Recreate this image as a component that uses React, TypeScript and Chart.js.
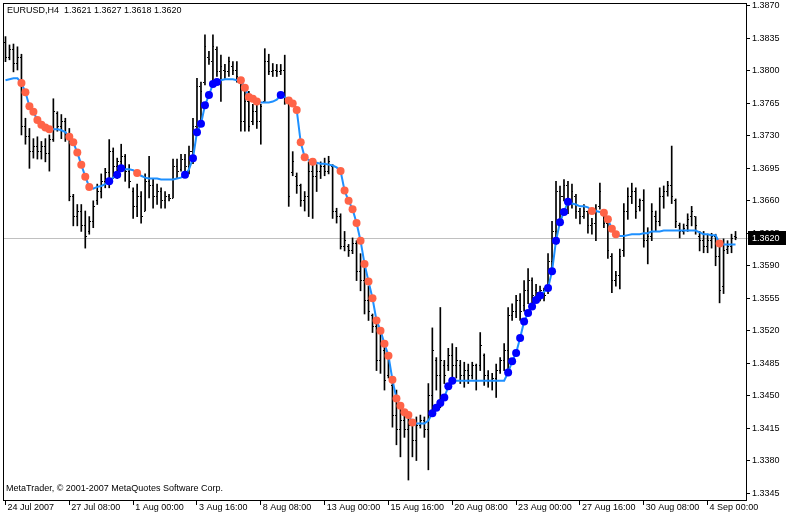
import { useEffect, useRef } from "react";
import { Chart, registerables } from "chart.js";

Chart.register(...registerables);

const TITLE = "EURUSD,H4  1.3621 1.3627 1.3618 1.3620";
const COPYRIGHT = "MetaTrader, \u00A9 2001-2007 MetaQuotes Software Corp.";
const BID_PRICE = 1.362;

const PRICE_TICKS = [
  1.387, 1.3835, 1.38, 1.3765, 1.373, 1.3695, 1.366, 1.3625, 1.359, 1.3555, 1.352, 1.3485, 1.345, 1.3415,
  1.338, 1.3345,
];
const TIME_TICK_BARS = [0, 16, 32, 48, 64, 80, 96, 112, 128, 144, 160, 176];
const TIME_TICK_LABELS = [
  "24 Jul 2007", "27 Jul 08:00", "1 Aug 00:00", "3 Aug 16:00", "8 Aug 08:00", "13 Aug 00:00",
  "15 Aug 16:00", "20 Aug 08:00", "23 Aug 00:00", "27 Aug 16:00", "30 Aug 08:00", "4 Sep 00:00",
];

const OPEN = [
  1.3831, 1.3815, 1.3823, 1.3808, 1.3815, 1.374, 1.3729, 1.3713, 1.3719, 1.3713,
  1.3719, 1.3711, 1.3726, 1.3754, 1.374, 1.3745, 1.3729, 1.3665, 1.3643, 1.3649,
  1.3633, 1.3627, 1.3638, 1.366, 1.367, 1.3681, 1.369, 1.3713, 1.3697, 1.3702,
  1.3708, 1.3692, 1.367, 1.3654, 1.3665, 1.3649, 1.3681, 1.3676, 1.3665, 1.367,
  1.366, 1.3665, 1.3663, 1.3697, 1.3694, 1.3705, 1.3697, 1.3713, 1.374, 1.3783,
  1.3788, 1.3815, 1.381, 1.3823, 1.3799, 1.3801, 1.3799, 1.3805, 1.3801, 1.3788,
  1.3745, 1.3767, 1.3745, 1.3756, 1.3745, 1.3767, 1.381, 1.3799, 1.3801, 1.3799,
  1.3801, 1.3767, 1.369, 1.3686, 1.3676, 1.366, 1.3665, 1.3692, 1.3686, 1.3692,
  1.3697, 1.3692, 1.3697, 1.3649, 1.3643, 1.3611, 1.3611, 1.3606, 1.3614, 1.3584,
  1.3574, 1.3552, 1.3536, 1.3525, 1.3488, 1.3499, 1.3472, 1.3461, 1.3429, 1.3413,
  1.3423, 1.3413, 1.3418, 1.3402, 1.3418, 1.3423, 1.3413, 1.345, 1.3488, 1.3472,
  1.3482, 1.3482, 1.3493, 1.3482, 1.3482, 1.3472, 1.3477, 1.3472, 1.3482, 1.3482,
  1.3493, 1.3472, 1.3466, 1.3468, 1.3477, 1.3488, 1.3499, 1.3536, 1.3541, 1.3552,
  1.3547, 1.3563, 1.3574, 1.3563, 1.3561, 1.3563, 1.3563, 1.3595, 1.3627, 1.367,
  1.3665, 1.3676, 1.366, 1.3665, 1.3649, 1.3643, 1.3649, 1.3633, 1.3636, 1.3654,
  1.3647, 1.3636, 1.36, 1.3574, 1.3579, 1.3606, 1.3649, 1.3665, 1.367, 1.3654,
  1.366, 1.3617, 1.3622, 1.3643, 1.3638, 1.3665, 1.367, 1.3676, 1.366, 1.3633,
  1.3627, 1.3633, 1.3643, 1.3643, 1.3622, 1.3617, 1.3611, 1.3617, 1.3622, 1.36,
  1.3568, 1.3608, 1.3611, 1.3621,
];

const HIGH = [
  1.3837, 1.3828, 1.3829, 1.3826, 1.3818, 1.3749, 1.3738, 1.3727, 1.3729, 1.3724,
  1.3727, 1.3731, 1.377, 1.3756, 1.3753, 1.3749, 1.3738, 1.3667, 1.3656, 1.3656,
  1.3649, 1.3643, 1.366, 1.3678, 1.3689, 1.3695, 1.3726, 1.3717, 1.3706, 1.3721,
  1.371, 1.3699, 1.3674, 1.3678, 1.367, 1.3689, 1.3708, 1.3684, 1.3678, 1.3674,
  1.367, 1.3667, 1.3705, 1.3705, 1.371, 1.371, 1.3719, 1.3749, 1.3792, 1.3788,
  1.3839, 1.3821, 1.3839, 1.3826, 1.3817, 1.3807, 1.3815, 1.381, 1.381, 1.3792,
  1.3781, 1.3778, 1.3764, 1.3767, 1.3764, 1.3824, 1.3818, 1.3808, 1.3807, 1.3807,
  1.3817, 1.377, 1.3713, 1.369, 1.3678, 1.367, 1.3702, 1.37, 1.3699, 1.3702,
  1.3706, 1.3708, 1.3699, 1.3652, 1.3646, 1.3627, 1.3613, 1.362, 1.3617, 1.3603,
  1.3595, 1.3568, 1.3538, 1.3527, 1.352, 1.3502, 1.3496, 1.3466, 1.3456, 1.3442,
  1.3431, 1.3431, 1.3423, 1.3427, 1.3429, 1.3427, 1.3463, 1.3523, 1.3491, 1.3545,
  1.3488, 1.3501, 1.3506, 1.3502, 1.3488, 1.3486, 1.3484, 1.3486, 1.3484, 1.3518,
  1.3495, 1.3477, 1.3474, 1.3484, 1.3491, 1.3506, 1.3545, 1.3549, 1.3558, 1.356,
  1.3574, 1.3587, 1.3577, 1.357, 1.3568, 1.3566, 1.3603, 1.3638, 1.3681, 1.3676,
  1.3683, 1.3681, 1.3678, 1.3667, 1.3652, 1.3656, 1.3649, 1.3641, 1.3656, 1.3679,
  1.3649, 1.3638, 1.3603, 1.3584, 1.3608, 1.3657, 1.3674, 1.3679, 1.3674, 1.3662,
  1.3672, 1.3631, 1.3657, 1.3649, 1.3674, 1.3676, 1.3681, 1.3719, 1.3662, 1.3636,
  1.3635, 1.3646, 1.3654, 1.3643, 1.3627, 1.3627, 1.3624, 1.3625, 1.3624, 1.3613,
  1.3619, 1.3617, 1.3624, 1.3627,
];

const LOW = [
  1.381, 1.3812, 1.3799, 1.3801, 1.3731, 1.3721, 1.3695, 1.3706, 1.3705, 1.3705,
  1.3702, 1.3692, 1.3724, 1.3735, 1.3727, 1.3724, 1.366, 1.3633, 1.3633, 1.3627,
  1.3609, 1.3624, 1.3631, 1.3656, 1.3663, 1.3674, 1.3674, 1.3684, 1.3684, 1.3692,
  1.3681, 1.3674, 1.3641, 1.3643, 1.3636, 1.3649, 1.3663, 1.3652, 1.3656, 1.3652,
  1.3652, 1.366, 1.3663, 1.3684, 1.3692, 1.3692, 1.3689, 1.37, 1.3731, 1.3745,
  1.3785, 1.3807, 1.3788, 1.3794, 1.3767, 1.3792, 1.3794, 1.3796, 1.3788, 1.3735,
  1.3735, 1.3735, 1.3742, 1.3738, 1.3721, 1.3767, 1.3796, 1.3794, 1.3794, 1.3796,
  1.3764, 1.3654, 1.3687, 1.3668, 1.3654, 1.3649, 1.3643, 1.3641, 1.367, 1.3684,
  1.3687, 1.3689, 1.3641, 1.3636, 1.3608, 1.3606, 1.36, 1.3603, 1.3574, 1.3563,
  1.3538, 1.3531, 1.3518, 1.3477, 1.3474, 1.3456, 1.3469, 1.3416, 1.3397, 1.3384,
  1.3405, 1.3359, 1.3384, 1.338, 1.3415, 1.3405, 1.337, 1.3432, 1.3456, 1.3437,
  1.3463, 1.3477, 1.3463, 1.3469, 1.3463, 1.3459, 1.3463, 1.3468, 1.3456, 1.3477,
  1.3461, 1.3459, 1.3456, 1.3448, 1.3474, 1.3477, 1.3477, 1.3531, 1.3534, 1.3531,
  1.3541, 1.3549, 1.3549, 1.3555, 1.3552, 1.3552, 1.356, 1.3581, 1.3613, 1.3638,
  1.366, 1.3646, 1.3652, 1.3641, 1.3635, 1.3641, 1.3625, 1.3624, 1.3617, 1.3651,
  1.3631, 1.3598, 1.3561, 1.3568, 1.3565, 1.36, 1.364, 1.3657, 1.3641, 1.3649,
  1.361, 1.3592, 1.3617, 1.3627, 1.3633, 1.3652, 1.3665, 1.3657, 1.3631, 1.362,
  1.3624, 1.3627, 1.3633, 1.3624, 1.3606, 1.3604, 1.3604, 1.3609, 1.359, 1.355,
  1.356, 1.3603, 1.3604, 1.3618,
];

const CLOSE = [
  1.3815, 1.3823, 1.3808, 1.3815, 1.374, 1.3729, 1.3713, 1.3719, 1.3713, 1.3719,
  1.3711, 1.3726, 1.3756, 1.374, 1.3745, 1.3729, 1.3665, 1.3643, 1.3649, 1.3633,
  1.3622, 1.3638, 1.3654, 1.367, 1.3681, 1.369, 1.3713, 1.3697, 1.3702, 1.3708,
  1.3692, 1.3681, 1.3654, 1.3665, 1.3643, 1.3681, 1.3676, 1.3665, 1.367, 1.366,
  1.3665, 1.3663, 1.3697, 1.3692, 1.3705, 1.3697, 1.3713, 1.374, 1.3783, 1.3778,
  1.3826, 1.3812, 1.3826, 1.3799, 1.3805, 1.3799, 1.381, 1.3801, 1.3794, 1.3745,
  1.3767, 1.374, 1.3756, 1.3745, 1.3762, 1.381, 1.3799, 1.3801, 1.3799, 1.3801,
  1.3767, 1.3665, 1.3702, 1.3676, 1.366, 1.3665, 1.3692, 1.3686, 1.3692, 1.3697,
  1.3692, 1.3702, 1.3649, 1.3643, 1.3611, 1.3617, 1.3606, 1.3614, 1.3584, 1.3574,
  1.3552, 1.3541, 1.3525, 1.3488, 1.3504, 1.3466, 1.3488, 1.3429, 1.3413, 1.3423,
  1.3413, 1.3418, 1.3402, 1.3418, 1.3423, 1.3413, 1.345, 1.3499, 1.3472, 1.3488,
  1.3472, 1.3493, 1.3482, 1.3488, 1.3472, 1.3477, 1.3472, 1.3482, 1.3466, 1.3504,
  1.3472, 1.3466, 1.3468, 1.3477, 1.3488, 1.3499, 1.3536, 1.3541, 1.3552, 1.3541,
  1.3563, 1.3574, 1.3558, 1.3561, 1.3563, 1.3558, 1.3595, 1.3627, 1.367, 1.3665,
  1.3676, 1.366, 1.367, 1.3649, 1.3643, 1.3649, 1.3633, 1.3636, 1.3649, 1.367,
  1.3636, 1.3606, 1.3574, 1.3579, 1.36, 1.3649, 1.3665, 1.367, 1.3649, 1.366,
  1.3617, 1.3622, 1.3649, 1.3638, 1.3665, 1.367, 1.3676, 1.3665, 1.3638, 1.3627,
  1.363, 1.364, 1.3649, 1.3633, 1.3617, 1.3611, 1.3617, 1.3622, 1.36, 1.3563,
  1.3606, 1.3611, 1.3619, 1.362,
];

const MA = [
  1.379, 1.3791, 1.3792, 1.3792, 1.3787, 1.3777, 1.3762, 1.3756, 1.3747, 1.3742,
  1.3739, 1.3737, 1.3737, 1.3737, 1.3736, 1.3734, 1.3729, 1.3723, 1.3712, 1.3699,
  1.3686, 1.3675, 1.3673, 1.3675, 1.3676, 1.3678, 1.3681, 1.3685, 1.3688, 1.3695,
  1.3694, 1.3694, 1.3693, 1.369, 1.3687, 1.3685, 1.3684, 1.3684, 1.3684, 1.3683,
  1.3683, 1.3683, 1.3683, 1.3684, 1.3685, 1.3688, 1.3694, 1.3706, 1.3734, 1.3743,
  1.3763, 1.3774, 1.3786, 1.3788, 1.379, 1.3791, 1.3791, 1.3791, 1.379, 1.379,
  1.3782, 1.3772, 1.377, 1.3767, 1.3766, 1.3766, 1.3766, 1.3767, 1.3769, 1.3774,
  1.3772, 1.3768, 1.3765, 1.3758, 1.3723, 1.3707, 1.3704, 1.3702, 1.3701, 1.37,
  1.37, 1.3699, 1.3698, 1.3696, 1.3692, 1.3671, 1.366, 1.3651, 1.3636, 1.3617,
  1.3592, 1.3573, 1.3555, 1.3531, 1.352, 1.3506, 1.3493, 1.3467, 1.3447, 1.3439,
  1.3432, 1.3429, 1.3421, 1.342, 1.342, 1.342, 1.3423, 1.3431, 1.3437, 1.3442,
  1.3448, 1.346, 1.3466, 1.3466, 1.3466, 1.3466, 1.3466, 1.3466, 1.3466, 1.3466,
  1.3466, 1.3466, 1.3466, 1.3466, 1.3466, 1.3466, 1.3475, 1.3487, 1.3496, 1.3512,
  1.353, 1.3539, 1.3546, 1.3553, 1.3558, 1.3562, 1.3566, 1.3584, 1.3617, 1.3637,
  1.3648, 1.3659, 1.3657, 1.3656, 1.3654, 1.3654, 1.3653, 1.3649, 1.3649, 1.3648,
  1.3647, 1.364, 1.363, 1.3624, 1.3622, 1.3622, 1.3623, 1.3624, 1.3624, 1.3624,
  1.3625, 1.3625, 1.3627, 1.3627, 1.3627, 1.3628, 1.3628, 1.3628, 1.3628, 1.3628,
  1.3628, 1.3628, 1.3628, 1.3628, 1.3626, 1.3624, 1.3624, 1.3623, 1.3623, 1.3614,
  1.3613, 1.3613, 1.3613, 1.3613,
];

const SELL_SIGNAL_BARS = [
  4, 5, 6, 7, 8, 9, 10, 11, 16, 17, 18, 19, 20, 21, 33, 59, 60, 61, 62, 63, 71, 72, 73, 74, 75, 77,
  84, 85, 86, 87, 88, 89, 90, 91, 92, 93, 94, 95, 96, 97, 98, 99, 100, 101, 102, 147, 150, 151, 152, 153, 179,
];
const BUY_SIGNAL_BARS = [
  26, 28, 29, 45, 47, 48, 49, 50, 51, 52, 53, 69, 107, 108, 109, 110, 111, 112,
  126, 127, 128, 129, 130, 131, 132, 133, 134, 136, 137, 138, 139, 140, 141,
];

const FONT_FAMILY = '"Liberation Sans", Arial, sans-serif';
const FONT_SIZE = 9;

const Y_MAX = 1.387 + 2 / 9314.3;
const Y_MIN = Y_MAX - 498 / 9314.3;

const mtPlugin = {
  id: "mt4Decor",
  beforeDatasetsDraw(chart: any) {
    const { ctx, chartArea, scales } = chart;
    const y = Math.round(scales.y.getPixelForValue(BID_PRICE));
    ctx.save();
    ctx.fillStyle = "#C0C0C0";
    ctx.fillRect(chartArea.left, y, chartArea.right - chartArea.left + 3, 1);
    ctx.restore();
  },
  afterDatasetDraw(chart: any, args: any) {
    if (args.index !== 3) return;
    const { ctx, scales } = chart;
    ctx.save();
    ctx.fillStyle = "#000000";
    for (let i = 0; i < OPEN.length; i++) {
      const col = Math.floor(scales.x.getPixelForValue(i));
      const yo = Math.floor(scales.y.getPixelForValue(OPEN[i]));
      const yc = Math.floor(scales.y.getPixelForValue(CLOSE[i]));
      ctx.fillRect(col - 1, yo, 1, 1);
      ctx.fillRect(col + 1, yc, 1, 1);
    }
    ctx.restore();
  },
  afterDraw(chart: any) {
    const { ctx, chartArea, scales } = chart;
    ctx.save();
    ctx.strokeStyle = "#000000";
    ctx.lineWidth = 1;
    ctx.strokeRect(
      chartArea.left - 0.5,
      chartArea.top - 0.5,
      chartArea.right - chartArea.left + 1,
      chartArea.bottom - chartArea.top + 1
    );
    ctx.font = `${FONT_SIZE}px ${FONT_FAMILY}`;
    ctx.fillStyle = "#000000";
    ctx.textBaseline = "middle";
    ctx.textAlign = "left";
    ctx.fillText(TITLE, 7, 11);
    ctx.fillText(COPYRIGHT, 6, 489);
    const yb = Math.round(scales.y.getPixelForValue(BID_PRICE));
    ctx.fillStyle = "#000000";
    ctx.fillRect(chartArea.right + 2, yb - 7, 786 - chartArea.right - 2, 14);
    ctx.fillStyle = "#FFFFFF";
    ctx.fillText(BID_PRICE.toFixed(4), chartArea.right + 6, yb + 0.5);
    ctx.restore();
  },
};

export default function App() {
  const canvasRef = useRef<HTMLCanvasElement | null>(null);

  useEffect(() => {
    document.body.style.margin = "0";
    const canvas = canvasRef.current;
    if (!canvas) return;

    const barData = HIGH.map((h, i) => ({ x: i, y: [LOW[i], h] }));
    const maData = MA.map((v, i) => ({ x: i, y: v }));
    const sellPts = SELL_SIGNAL_BARS.map((i) => ({ x: i, y: MA[i] }));
    const buyPts = BUY_SIGNAL_BARS.map((i) => ({ x: i, y: MA[i] }));

    const chart = new Chart(canvas, {
      type: "bar",
      data: {
        datasets: [
          {
            type: "line",
            data: sellPts,
            showLine: false,
            pointRadius: 4,
            pointBackgroundColor: "#FF6347",
            pointBorderWidth: 0,
            pointBorderColor: "#FF6347",
            order: 1,
          } as any,
          {
            type: "line",
            data: buyPts,
            showLine: false,
            pointRadius: 4,
            pointBackgroundColor: "#0000FF",
            pointBorderWidth: 0,
            pointBorderColor: "#0000FF",
            order: 1,
          } as any,
          {
            type: "line",
            data: maData,
            borderColor: "#1E90FF",
            borderWidth: 2,
            pointRadius: 0,
            tension: 0,
            order: 2,
          } as any,
          {
            type: "bar",
            data: barData,
            backgroundColor: "#000000",
            barThickness: 1,
            borderWidth: 0,
            order: 3,
          } as any,
        ],
      },
      options: {
        animation: false,
        responsive: false,
        events: [],
        layout: { padding: { left: 2, top: 2, right: 0, bottom: 0 } },
        plugins: { legend: { display: false }, tooltip: { enabled: false } },
        scales: {
          x: {
            type: "linear",
            position: "bottom",
            min: -0.375,
            max: 185.625,
            offset: false,
            afterBuildTicks: (s: any) => {
              s.ticks = TIME_TICK_BARS.map((v) => ({ value: v }));
            },
            afterFit: (s: any) => {
              s.height = 16;
              s.paddingLeft = 0;
              s.paddingRight = 0;
              s.paddingTop = 0;
              s.paddingBottom = 0;
            },
            grid: {
              display: true,
              drawOnChartArea: false,
              drawTicks: true,
              tickLength: 5,
              color: "#000000",
              offset: false,
            },
            border: { display: false },
            ticks: {
              autoSkip: false,
              maxRotation: 0,
              minRotation: 0,
              align: "start",
              padding: -3,
              labelOffset: 2,
              color: "#000000",
              font: { family: FONT_FAMILY, size: FONT_SIZE },
              callback: (v: any) => {
                const k = TIME_TICK_BARS.indexOf(Number(v));
                return k >= 0 ? TIME_TICK_LABELS[k] : "";
              },
            },
          } as any,
          y: {
            type: "linear",
            position: "right",
            min: Y_MIN,
            max: Y_MAX,
            beginAtZero: false,
            offset: false,
            afterBuildTicks: (s: any) => {
              s.ticks = PRICE_TICKS.map((v) => ({ value: v }));
            },
            afterFit: (s: any) => {
              s.width = 40;
              s.paddingTop = 0;
              s.paddingBottom = 0;
              s.paddingLeft = 0;
              s.paddingRight = 0;
            },
            grid: {
              display: true,
              drawOnChartArea: false,
              drawTicks: true,
              tickLength: 4,
              color: "#000000",
            },
            border: { display: false },
            ticks: {
              autoSkip: false,
              padding: 2,
              color: "#000000",
              font: { family: FONT_FAMILY, size: FONT_SIZE },
              callback: (v: any) => Number(v).toFixed(4),
            },
          } as any,
        },
      },
      plugins: [mtPlugin],
    } as any);

    return () => chart.destroy();
  }, []);

  return (
    <div style={{ width: 786, height: 516 }}>
      <canvas ref={canvasRef} width={786} height={516} style={{ display: "block" }} />
    </div>
  );
}
